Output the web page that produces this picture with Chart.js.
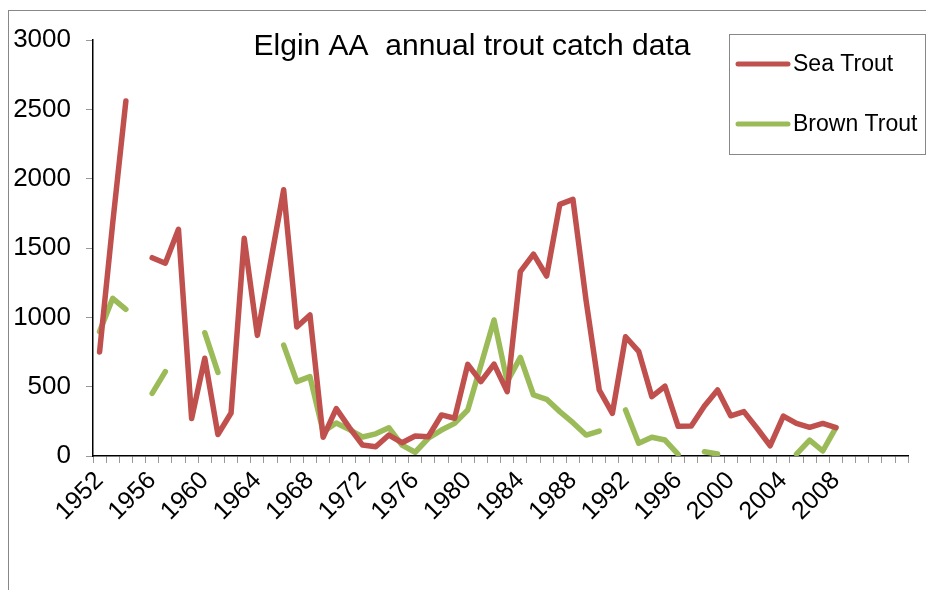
<!DOCTYPE html>
<html>
<head>
<meta charset="utf-8">
<script src="https://cdn.jsdelivr.net/npm/chart.js@4.4.0/dist/chart.umd.min.js"></script>
<style>
  html, body { margin: 0; padding: 0; background: #fff; }
</style>
</head>
<body>
<canvas id="canvas" width="926" height="590"></canvas>
<script>
// categories: one per season, the last five have no label
var years = ['1952', '1953', '1954', '1955', '1956', '1957', '1958', '1959', '1960', '1961',
    '1962', '1963', '1964', '1965', '1966', '1967', '1968', '1969', '1970', '1971',
    '1972', '1973', '1974', '1975', '1976', '1977', '1978', '1979', '1980', '1981',
    '1982', '1983', '1984', '1985', '1986', '1987', '1988', '1989', '1990', '1991',
    '1992', '1993', '1994', '1995', '1996', '1997', '1998', '1999', '2000', '2001',
    '2002', '2003', '2004', '2005', '2006', '2007', '2008', '', '', '', '', ''];

var seaTrout = [750, 1680, 2560, null, 1430, 1390, 1635, 270, 705, 155,
    310, 1570, 870, 1395, 1920, 930, 1017, 135, 342, 205,
    79, 67, 151, 96, 144, 139, 296, 272, 661, 536,
    663, 464, 1329, 1456, 1298, 1815, 1851, 1120, 476, 308,
    860, 755, 428, 503, 214, 216, 360, 476, 290, 320,
    200, 74, 288, 235, 207, 235, 204];

var brownTrout = [897, 1137, 1058, null, 452, 608, null, null, 889, 603,
    null, null, null, null, 800, 536, 572, 175, 238, 190,
    137, 160, 204, 79, 27, 128, 187, 235, 332, 655,
    981, 536, 711, 440, 409, 320, 240, 151, 180, null,
    332, 92, 135, 115, 12, null, 31, 14, null, null,
    null, null, null, 14, 115, 36, 204];

var yTicks = [0, 500, 1000, 1500, 2000, 2500, 3000];

var red = '#C0504D';
var green = '#9BBB59';
var fontFamily = '"Liberation Sans", Arial, sans-serif';

var decor = {
    id: 'decor',
    beforeDraw: function(chart) {
        var ctx = chart.ctx;
        ctx.save();
        ctx.fillStyle = '#fff';
        ctx.fillRect(0, 0, chart.width, chart.height);
        ctx.strokeStyle = '#888';
        ctx.lineWidth = 1;
        ctx.strokeRect(8.5, 10.5, chart.width + 10, chart.height + 10);
        ctx.restore();
    },
    afterDraw: function(chart) {
        var ctx = chart.ctx;
        ctx.save();
        // title
        ctx.fillStyle = '#000';
        ctx.font = '30px ' + fontFamily;
        ctx.textAlign = 'center';
        ctx.textBaseline = 'middle';
        ctx.fillText('Elgin AA  annual trout catch data', 472, 47);
        // legend
        ctx.fillStyle = '#fff';
        ctx.fillRect(729.5, 34.5, 196, 120);
        ctx.strokeStyle = '#888';
        ctx.lineWidth = 1;
        ctx.strokeRect(729.5, 34.5, 196, 120);
        ctx.font = '23px ' + fontFamily;
        ctx.textAlign = 'left';
        chart.data.datasets.forEach(function(ds, i) {
            var yy = 64 + i * 60;
            ctx.strokeStyle = ds.borderColor;
            ctx.lineWidth = 5;
            ctx.lineCap = 'round';
            ctx.beginPath();
            ctx.moveTo(738, yy);
            ctx.lineTo(788, yy);
            ctx.stroke();
            ctx.fillStyle = '#000';
            ctx.fillText(ds.label, 793, yy + 1);
        });
        ctx.restore();
    }
};

window.onload = function() {
    var ctx = document.getElementById('canvas').getContext('2d');
    window.myLine = new Chart(ctx, {
        type: 'line',
        data: {
            labels: years,
            datasets: [{
                label: 'Sea Trout',
                data: seaTrout,
                borderColor: red,
                backgroundColor: red,
                borderWidth: 5.5,
                borderCapStyle: 'round',
                borderJoinStyle: 'round',
                pointRadius: 0,
                spanGaps: false,
                tension: 0
            }, {
                label: 'Brown Trout',
                data: brownTrout,
                borderColor: green,
                backgroundColor: green,
                borderWidth: 5.5,
                borderCapStyle: 'round',
                borderJoinStyle: 'round',
                pointRadius: 0,
                spanGaps: false,
                tension: 0
            }]
        },
        options: {
            responsive: false,
            animation: false,
            devicePixelRatio: 1,
            layout: {
                padding: { left: 0, top: 40, right: 14, bottom: 0 }
            },
            plugins: {
                legend: { display: false },
                title: { display: false },
                tooltip: { enabled: false }
            },
            scales: {
                x: {
                    type: 'category',
                    offset: true,
                    grid: {
                        offset: true,
                        drawOnChartArea: false,
                        tickLength: 7,
                        color: '#999'
                    },
                    border: { color: '#000', width: 1.5 },
                    ticks: {
                        autoSkip: false,
                        maxRotation: 45,
                        minRotation: 45,
                        padding: 3,
                        color: '#000',
                        font: { family: fontFamily, size: 25 },
                        callback: function(value, index) {
                            var label = this.getLabelForValue(value);
                            return (index % 4 === 0 && label !== '') ? label : '';
                        }
                    },
                    afterFit: function(scale) { scale.height = 134; }
                },
                y: {
                    min: 0,
                    max: 3000,
                    afterBuildTicks: function(scale) {
                        scale.ticks = yTicks.map(function(v) { return { value: v }; });
                    },
                    grid: {
                        drawOnChartArea: false,
                        tickLength: 7,
                        color: '#999'
                    },
                    border: { color: '#000', width: 1.5 },
                    ticks: {
                        padding: 15,
                        color: '#000',
                        font: { family: fontFamily, size: 26 },
                        callback: function(value) { return String(value); }
                    },
                    afterFit: function(scale) { scale.width = 93; }
                }
            }
        },
        plugins: [decor]
    });
};
</script>
</body>
</html>
